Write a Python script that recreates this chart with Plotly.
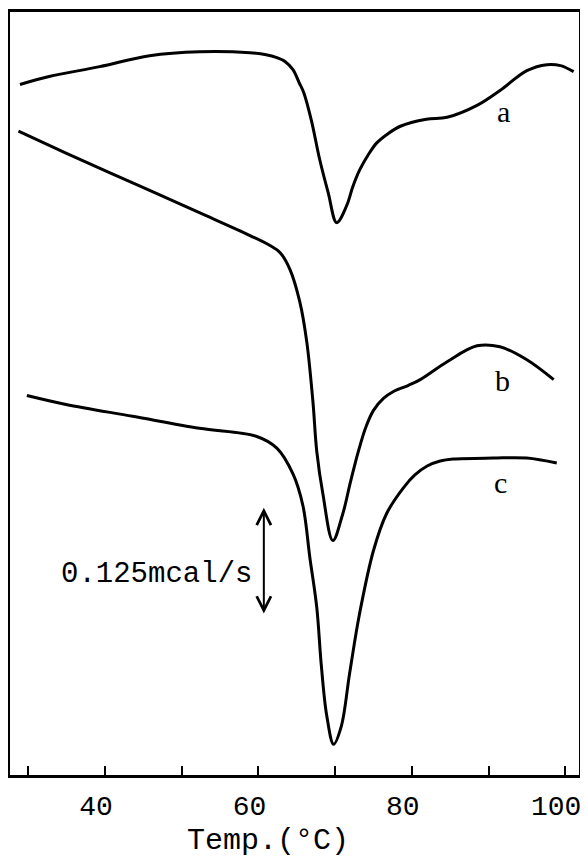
import plotly.graph_objects as go

# DSC thermograms, heat flow in arbitrary units (curves offset)
temp_a = [28.9, 32.7, 39.3, 45.8, 52.3, 58.9, 61.0, 62.4, 63.5, 64.5, 65.3, 65.9, 66.9, 68.0,
          69.1, 70.2, 71.5, 72.3, 73.2, 74.3, 75.4, 76.8, 78.5, 81.9, 84.6, 88.5, 91.5, 95.0,
          97.6, 99.4, 101.1]
heat_a = [695, 703, 713, 724, 728, 727, 725, 722, 718, 710, 697, 687, 659, 619,
          586, 556, 573, 592, 609, 624, 636, 645, 653, 660, 662, 674, 689, 709,
          715, 714, 708]

temp_b = [28.7, 34.9, 43.6, 52.3, 58.9, 61.5, 62.8, 64.1, 65.4, 66.3, 67.1, 67.6, 68.4, 69.7,
          71.0, 72.0, 73.0, 74.0, 75.0, 76.3, 77.6, 79.5, 81.1, 84.6, 88.5, 91.5, 95.0, 98.5]
heat_b = [648, 626, 596, 566, 543, 533, 526, 509, 476, 436, 376, 326, 283, 236,
          263, 295, 325, 350, 367, 379, 386, 392, 398, 416, 432, 431, 418, 398]

temp_c = [29.8, 34.9, 43.6, 52.3, 59.7, 62.4, 64.5, 65.8, 66.7, 67.6, 68.2, 68.9, 69.8, 70.8,
          71.9, 73.2, 75.0, 76.7, 78.9, 80.4, 82.0, 83.7, 85.4, 90.6, 95.0, 98.9]
heat_c = [382, 373, 361, 349, 341, 329, 303, 271, 219, 169, 110, 60, 31, 49,
          103, 163, 226, 263, 289, 302, 311, 316, 318, 319, 319, 314]

curve_labels = ['a', 'b', 'c']
label_x = [92.0, 91.8, 91.6]
label_y = [668, 397, 294]

scale_text = '0.125mcal/s'
scale_text_x = 46.7
scale_text_y = 202
scale_x = 60.7
scale_top = 269
scale_bottom = 161

major_ticks = [40, 60, 80, 100]

fig = go.Figure()
for t, h in [(temp_a, heat_a), (temp_b, heat_b), (temp_c, heat_c)]:
    fig.add_trace(go.Scatter(x=t, y=h, mode='lines', line_shape='spline',
                             line=dict(color='black', width=3, smoothing=1.0),
                             showlegend=False))

for lab, lx, ly in zip(curve_labels, label_x, label_y):
    fig.add_annotation(x=lx, y=ly, text=lab, showarrow=False,
                       font=dict(family='Liberation Serif', size=30, color='black'))

# scale bar
fig.add_annotation(x=scale_x, y=scale_top, ax=scale_x, ay=scale_bottom,
                   xref='x', yref='y', axref='x', ayref='y', text='',
                   showarrow=True, arrowhead=5, arrowside='end+start',
                   arrowsize=1.4, arrowwidth=2, arrowcolor='black')
fig.add_annotation(x=scale_text_x, y=scale_text_y, text=scale_text,
                   showarrow=False,
                   font=dict(family='Liberation Mono', size=29, color='black'))

fig.add_annotation(xref='paper', yref='paper', x=0.453, y=-0.087, text='Temp.(°C)',
                   showarrow=False, yanchor='middle',
                   font=dict(family='Liberation Mono', size=30, color='black'))

fig.update_xaxes(range=[27.6, 101.8], showline=True, mirror=True, linecolor='black',
                 linewidth=2.5, showgrid=False, zeroline=False,
                 tickvals=major_ticks, ticks='inside', ticklen=9, tickwidth=2,
                 tickcolor='black', ticklabelshift=-9, ticklabelstandoff=4,
                 tickfont=dict(family='Liberation Mono', size=28, color='black'),
                 minor=dict(tick0=30, dtick=10, ticks='inside', ticklen=9,
                            tickwidth=2, tickcolor='black'))
fig.update_yaxes(range=[0, 768], showline=True, mirror=True, linecolor='black',
                 linewidth=2.5, showgrid=False, zeroline=False, showticklabels=False,
                 ticks='')

# page body keeps an 8px margin, so the figure is drawn 8px smaller
fig.update_layout(width=580, height=850, plot_bgcolor='white', paper_bgcolor='white',
                  margin=dict(l=2, r=9, t=1, b=83))

fig.write_html("out.html")
